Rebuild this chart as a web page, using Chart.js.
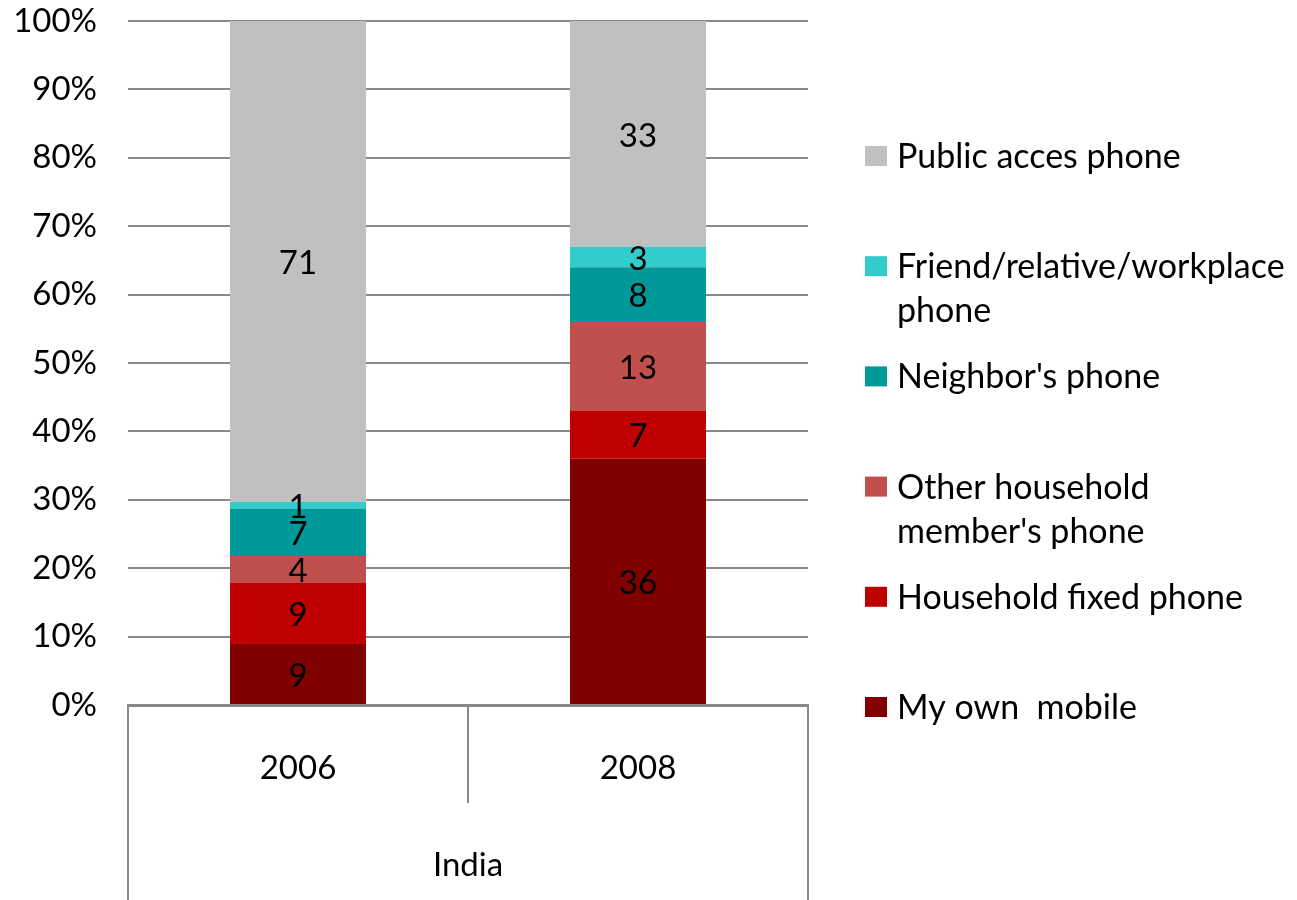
<!DOCTYPE html>
<html>
<head>
<meta charset="utf-8">
<script src="https://cdn.jsdelivr.net/npm/chart.js@4/dist/chart.umd.min.js"></script>
<style>
  html, body { margin: 0; padding: 0; background: #fff; }
  #wrap { width: 1297px; height: 900px; }
</style>
</head>
<body>
<div id="wrap"><canvas id="chart" width="1297" height="900"></canvas></div>
<script>
// data, bottom of the stack first
const years = ['2006', '2008'];
const region = 'India';
const seriesNames = [
    'My own  mobile',
    'Household fixed phone',
    "Other household\nmember's phone",
    "Neighbor's phone",
    'Friend/relative/workplace\nphone',
    'Public acces phone'
];
const ownMobile = [9, 36];
const householdFixed = [9, 7];
const otherHousehold = [4, 13];
const neighbor = [7, 8];
const friendRelative = [1, 3];
const publicAccess = [71, 33];
const seriesValues = [ownMobile, householdFixed, otherHousehold, neighbor, friendRelative, publicAccess];
const seriesColors = ['#800000', '#c00000', '#c0504d', '#009999', '#33cccc', '#c0c0c0'];
const yTicks = [0, 10, 20, 30, 40, 50, 60, 70, 80, 90, 100];

const FONT = 'Lato, "Open Sans", sans-serif';
const FONT_SIZE = 33;
const LEGEND_SIZE = 34;
const LINE = '#898989';

// 100% stacked: each column scaled by its own total
const totals = years.map((_, i) => seriesValues.reduce((s, arr) => s + arr[i], 0));

const segmentLabels = {
    id: 'segmentLabels',
    afterDatasetsDraw(chart){
        const ctx = chart.ctx;
        ctx.save();
        ctx.font = `${FONT_SIZE}px ${FONT}`;
        ctx.fillStyle = '#000';
        ctx.textAlign = 'center';
        ctx.textBaseline = 'middle';
        chart.data.datasets.forEach((ds, k) => {
            chart.getDatasetMeta(k).data.forEach((bar, i) => {
                ctx.fillText(String(ds.raw[i]), bar.x, (bar.y + bar.base) / 2 + 2);
            });
        });
        ctx.restore();
    }
};

const categoryFrame = {
    id: 'categoryFrame',
    afterDraw(chart){
        const ctx = chart.ctx;
        const x = chart.scales.x;
        const mid = (x.getPixelForTick(0) + x.getPixelForTick(1)) / 2;
        ctx.save();
        ctx.strokeStyle = LINE;
        ctx.lineWidth = 2;
        ctx.beginPath();
        ctx.moveTo(x.left, x.top); ctx.lineTo(x.left, x.bottom);
        ctx.moveTo(x.right, x.top); ctx.lineTo(x.right, x.bottom);
        ctx.moveTo(mid, x.top); ctx.lineTo(mid, x.top + 98);
        ctx.stroke();
        ctx.font = `${FONT_SIZE}px ${FONT}`;
        ctx.fillStyle = '#000';
        ctx.textAlign = 'center';
        ctx.textBaseline = 'middle';
        ctx.fillText(region, (x.left + x.right) / 2, x.top + 160);
        ctx.restore();
    }
};

const sideLegend = {
    id: 'sideLegend',
    afterDraw(chart){
        const ctx = chart.ctx;
        const boxX = chart.chartArea.right + 57;
        const textX = boxX + 32;
        let y = 157;
        ctx.save();
        ctx.font = `${LEGEND_SIZE}px ${FONT}`;
        ctx.textBaseline = 'middle';
        ctx.textAlign = 'left';
        for (let k = chart.data.datasets.length - 1; k >= 0; k--) {
            const ds = chart.data.datasets[k];
            ctx.fillStyle = ds.backgroundColor;
            ctx.fillRect(boxX, y - 11, 22, 20);
            ctx.fillStyle = '#000';
            ds.label.split('\n').forEach((line, j) => {
                ctx.fillText(line, textX, y + j * 44);
            });
            y += 110.2;
        }
        ctx.restore();
    }
};

new Chart(document.getElementById('chart'), {
    type: 'bar',
    data: {
        labels: years,
        datasets: seriesNames.map((name, k) => ({
            label: name,
            data: seriesValues[k].map((v, i) => v / totals[i] * 100),
            raw: seriesValues[k],
            backgroundColor: seriesColors[k],
            borderWidth: 0,
            barPercentage: 0.4,
            categoryPercentage: 1
        }))
    },
    options: {
        responsive: false,
        animation: false,
        layout: { padding: { left: 0, top: 21, right: 489, bottom: 0 } },
        plugins: {
            legend: { display: false },
            tooltip: { enabled: false }
        },
        scales: {
            x: {
                stacked: true,
                grid: { display: false },
                border: { display: true, color: LINE, width: 3 },
                ticks: { color: '#000', font: { family: FONT, size: FONT_SIZE }, padding: 36 },
                afterFit: s => { s.height = 195; s.paddingLeft = 0; s.paddingRight = 0; }
            },
            y: {
                stacked: true,
                min: 0,
                max: 100,
                afterBuildTicks: s => { s.ticks = yTicks.map(v => ({ value: v })); },
                ticks: {
                    color: '#000',
                    font: { family: FONT, size: FONT_SIZE },
                    padding: 31,
                    callback: v => v + '%'
                },
                grid: { color: LINE, lineWidth: 2, drawTicks: false },
                border: { display: false },
                afterFit: s => { s.width = 128; s.paddingTop = 0; s.paddingBottom = 0; }
            }
        }
    },
    plugins: [segmentLabels, categoryFrame, sideLegend]
});
</script>
</body>
</html>
